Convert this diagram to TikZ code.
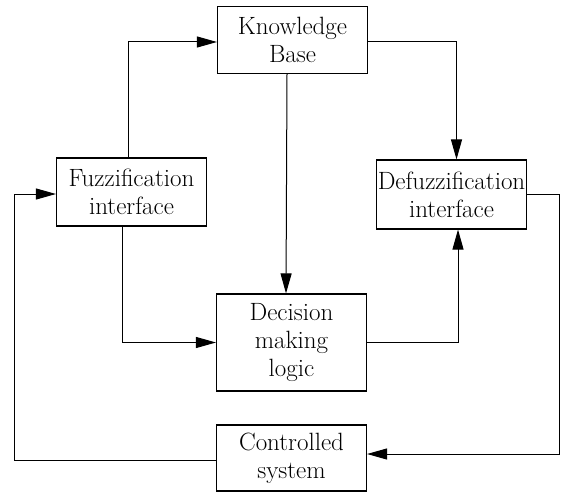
\documentclass[tikz,border=0pt]{standalone}
\usepackage{fontspec}
\usetikzlibrary{arrows.meta}
\begin{document}
\begin{tikzpicture}[x=1pt,y=-1pt,line width=1pt,
box/.style={draw,line width=1.1pt,minimum width=150pt,inner sep=0pt,align=center,font=\fontsize{25}{28}\selectfont\addfontfeatures{LetterSpace=4}},
tip/.style={-{Triangle[length=20pt,width=11pt]}}]
\useasboundingbox(0,0)rectangle(562,492);
\node[box,minimum height=67pt](kb)at(292.5,40){Knowledge\\Base};
\node[box,minimum height=68pt](fz)at(131.5,192){Fuzzification\\interface};\node[box,minimum height=69pt,font=\fontsize{25}{28}\selectfont](df)at(451.5,194.5){Defuzzification\\interface};
\node[box,minimum height=97pt](dm)at(291.5,342.5){Decision\\making\\logic};\node[box,minimum height=66pt](cs)at(291.5,458){Controlled\\system};
\coordinate(l)at(14,0);\coordinate(r)at(559,0);
\draw[tip]([xshift=-3.5pt]fz.north)|-([yshift=-2pt]kb.west);\draw[tip]([yshift=-2pt]kb.east)-|([xshift=5pt]df.north);\draw[tip]([xshift=-5.5pt]kb.south)--([xshift=-5.5pt]dm.north);
\draw[tip]([xshift=-9.5pt]fz.south)|-(dm.west);\draw[tip](dm.east)-|([xshift=6.5pt]df.south);
\draw[tip](df.east)-|([yshift=4pt]cs.east-|r)--([yshift=4pt]cs.east);\draw[tip]([yshift=-2pt]cs.west)-|([yshift=-2pt]fz.west-|l)--([yshift=-2pt]fz.west);
\end{tikzpicture}
\end{document}
